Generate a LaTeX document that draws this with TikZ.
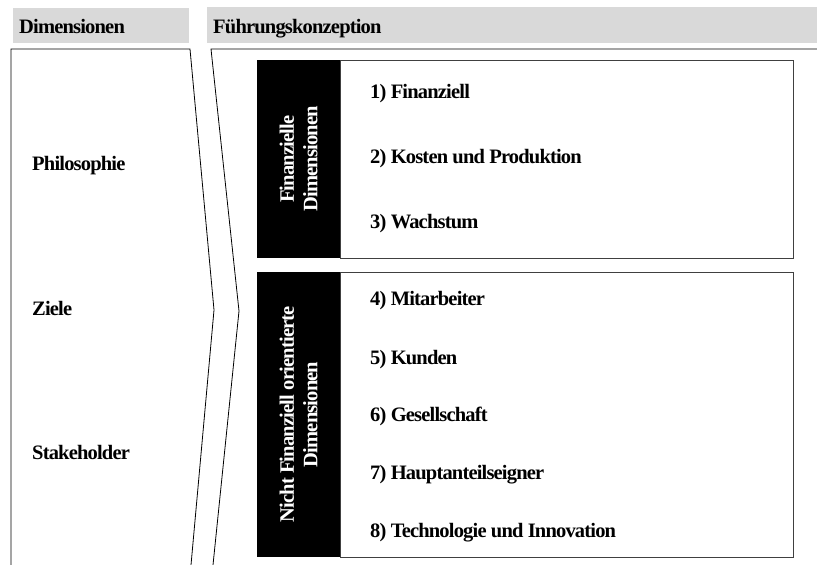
\documentclass[tikz,border=0pt]{standalone}
\usepackage{fontspec}
\setmainfont{Liberation Serif}
\newfontfamily\diafont{Liberation Serif}[LetterSpace=-4]
\usetikzlibrary{positioning}
\definecolor{kopfgrau}{HTML}{D9D9D9}
\definecolor{rahmen}{HTML}{404040}

\begin{document}
\begin{tikzpicture}[x=1pt, y=-1pt,
      font=\diafont\fontsize{20.5}{23.5}\selectfont\bfseries,
      kopf/.style={fill=kopfgrau, anchor=north west, inner sep=0pt},
      eintrag/.style={anchor=base west, inner sep=0pt},
      feld/.style={draw=rahmen, line width=1.2pt, fill=white, anchor=north west, inner sep=0pt},
      balken/.style={fill=black, text=white, rotate=90, align=center, inner sep=0pt, minimum height=83pt},
      fase/.style={draw=black, line width=0.8pt}]
    \useasboundingbox (0,0) rectangle (817,565);
    % Kopfzeile
    \node[kopf, minimum width=176pt, minimum height=35pt] (dimkopf) at (13,8) {};
    \node[kopf, minimum width=610pt, minimum height=36pt] (fkkopf) at (207,7) {};
    \node[eintrag] (dimtitel) at (19,33) {Dimensionen};
    \node[eintrag] (fktitel) at (213,33) {Führungskonzeption};
    % Pfeilformen
    \draw[fase] (11,565) -- (11,49) -- (190,49) -- (214,310) -- (191,565);
    \draw[fase] (817,49) -- (211,49) -- (239,311) -- (213,565);
    \node[eintrag] (phil) at (32,170) {Philosophie};
    \node[eintrag] (ziele) at (32,315) {Ziele};
    \node[eintrag] (stake) at (32,459) {Stakeholder};
    % Finanzielle Dimensionen
    \node[feld, minimum width=453pt, minimum height=198pt] (finfeld) at (340,60) {};
    \node[balken, minimum width=198pt] (fin) at (298.5,159) {Finanzielle\\Dimensionen};
    \node[eintrag] (f1) at (370,98) {1) Finanziell};
    \node[eintrag] (f2) at (370,163) {2) Kosten und Produktion};
    \node[eintrag] (f3) at (370,228) {3) Wachstum};
    % Nicht finanzielle Dimensionen
    \node[feld, minimum width=453pt, minimum height=285pt] (nfeld) at (340,272) {};
    \node[balken, minimum width=285pt] (nfin) at (298.5,414.5) {Nicht Finanziell orientierte\\Dimensionen};
    \node[eintrag] (n4) at (370,305) {4) Mitarbeiter};
    \node[eintrag] (n5) at (370,364) {5) Kunden};
    \node[eintrag] (n6) at (370,421) {6) Gesellschaft};
    \node[eintrag] (n7) at (370,479) {7) Hauptanteilseigner};
    \node[eintrag] (n8) at (370,537) {8) Technologie und Innovation};
  \end{tikzpicture}
\end{document}
